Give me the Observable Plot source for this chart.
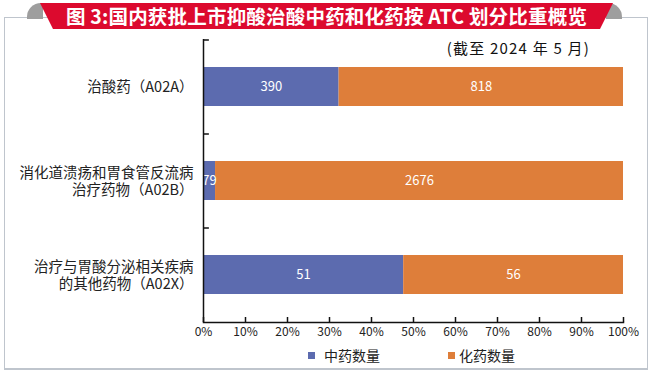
<!DOCTYPE html>
<html>
<head>
<meta charset="utf-8">
<script src="https://cdn.jsdelivr.net/npm/d3@7"></script>
<script src="https://cdn.jsdelivr.net/npm/@observablehq/plot@0.6"></script>
<style>
  html, body { margin: 0; padding: 0; background: #fff; }
  #wrap { position: relative; width: 650px; height: 375px; overflow: hidden; background: #fff;
          font-family: "Noto Sans CJK SC", "Noto Sans", sans-serif; }
  #chart { position: absolute; left: 0; top: 0; }
  #frame { position: absolute; left: 4px; top: 17px; width: 644px; height: 353px; box-sizing: border-box;
           border: 1.5px solid #BFC5CD; border-bottom-width: 2.5px; }
  .fold { position: absolute; top: 3px; width: 16px; height: 16px; background: #9E9E9E; }
  #foldL { left: 27px; border-top-left-radius: 14px; }
  #foldR { left: 606px; border-top-right-radius: 14px; }
  #banner { position: absolute; left: 40px; top: 3px; width: 573px; height: 26px; background: #DC0A2E;
            clip-path: polygon(0 0, 100% 0, calc(100% - 13px) 100%, 13px 100%);
            color: #fff; font-weight: bold; font-size: 19.5px; letter-spacing: 0.2px; line-height: 26px;
            text-align: center; white-space: nowrap; }
  #sub { position: absolute; right: 60px; top: 37px; font-size: 15px; letter-spacing: 1.2px; line-height: 22px; color: #111; }
  .lg { position: absolute; top: 345px; font-size: 14px; line-height: 20px; color: #222; }
  .sw { position: absolute; top: 352px; width: 7px; height: 7px; }
</style>
</head>
<body>
<div id="wrap">
  <div id="chart"></div>
  <div id="frame"></div>
  <div class="fold" id="foldL"></div>
  <div class="fold" id="foldR"></div>
  <div id="banner">图 3:国内获批上市抑酸治酸中药和化药按 ATC 划分比重概览</div>
  <div id="sub">(截至 2024 年 5 月)</div>
  <div class="sw" style="left:308px;background:#5C6BAF"></div>
  <div class="lg" style="left:324px">中药数量</div>
  <div class="sw" style="left:448px;background:#DE7E3A"></div>
  <div class="lg" style="left:459px">化药数量</div>
</div>
<script>
const categories = ["治酸药（A02A）", "消化道溃疡和胃食管反流病\n治疗药物（A02B）", "治疗与胃酸分泌相关疾病\n的其他药物（A02X）"];
const seriesNames = ["中药数量", "化药数量"];
const tcmValues = [390, 79, 51];
const chemValues = [818, 2676, 56];
const colors = ["#5C6BAF", "#DE7E3A"];

const rows = [];
categories.forEach((c, i) => {
  rows.push({cat: c, type: seriesNames[0], value: tcmValues[i]});
  rows.push({cat: c, type: seriesNames[1], value: chemValues[i]});
});

const plot = Plot.plot({
  width: 650,
  height: 375,
  marginLeft: 203,
  marginRight: 27,
  marginTop: 39,
  marginBottom: 53,
  style: {background: "transparent", fontFamily: "'Noto Sans CJK SC', 'Noto Sans', sans-serif", color: "#222"},
  x: {domain: [0, 1], label: null},
  y: {domain: categories, paddingInner: 0.585, paddingOuter: 0.2925, label: null},
  color: {domain: seriesNames, range: colors},
  marks: [
    Plot.barX(rows, Plot.stackX({x: "value", y: "cat", fill: "type", offset: "normalize"})),
    Plot.text(rows, Plot.stackX({x: "value", y: "cat", z: "type", text: d => String(d.value), offset: "normalize",
      fill: "white", fontSize: 13})),
    Plot.axisX({ticks: d3.range(0, 1.0001, 0.1), tickSize: 5, dy: -5, tickPadding: 5, tickFormat: d3.format(".0%"),
      fontSize: 12, stroke: "#111", strokeWidth: 1.5, fill: "#222"}),
    Plot.axisY({tickSize: 0, tickPadding: 10, fontSize: 14.5, lineHeight: 1.15, fill: "#222"}),
    Plot.ruleY(categories.slice(0, 2), {y: d => d, x1: 0, x2: 0.014, dy: 47, stroke: "#111", strokeWidth: 1.5}),
    Plot.ruleY(categories.slice(0, 1), {y: d => d, x1: 0, x2: 0.014, dy: -47, stroke: "#111", strokeWidth: 1.5}),
    Plot.ruleX([0], {stroke: "#111", strokeWidth: 1.5}),
    Plot.frame({anchor: "bottom", stroke: "#111", strokeWidth: 1.5})
  ]
});
document.getElementById("chart").appendChild(plot);
</script>
</body>
</html>
